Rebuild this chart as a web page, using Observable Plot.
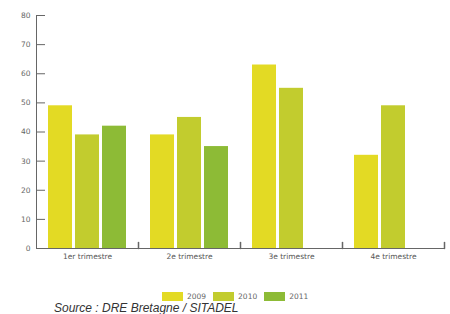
<!DOCTYPE html>
<html><head><meta charset="utf-8">
<script src="https://cdn.jsdelivr.net/npm/d3@7"></script>
<script src="https://cdn.jsdelivr.net/npm/@observablehq/plot@0.6"></script>
<style>
body{margin:0;background:#fff;font-family:"Liberation Sans",Arial,sans-serif;overflow:hidden;}
#legend{display:flex;align-items:center;margin-left:162px;margin-top:22px;height:9px;line-height:9px;font-family:"DejaVu Sans",sans-serif;font-size:7.5px;color:#666;}
#legend .sw{width:21px;height:9px;margin-right:4px;}
#legend .it{display:flex;align-items:center;margin-right:7px;}
#caption{margin-left:54px;margin-top:1px;font-style:italic;font-size:12px;color:#333;line-height:12px;white-space:nowrap;}
</style></head>
<body><div id="chart"></div><div id="legend"></div><div id="caption">Source : DRE Bretagne / SITADEL</div>
<script>
const quarters = ["1er trimestre","2e trimestre","3e trimestre","4e trimestre"];
const years = ["2009","2010","2011"];
const values2009 = [49, 39, 63, 32];
const values2010 = [39, 45, 55, 49];
const values2011 = [42, 35, null, null];
const colors = ["#e3da24","#c2cc2e","#8dbb36"];
const yTicks = [0,10,20,30,40,50,60,70,80];

const series = [values2009, values2010, values2011];
const data = [];
quarters.forEach((q,i)=>years.forEach((y,j)=>{ if (series[j][i] != null) data.push({quarter:q, year:y, value:series[j][i]}); }));

const lineShape = {draw(ctx, l){ ctx.moveTo(0,0); ctx.lineTo(0,-l); }};

const plot = Plot.plot({
  width: 450, height: 270,
  marginLeft: 35, marginRight: 5, marginTop: 15, marginBottom: 22,
  style: {fontFamily: "DejaVu Sans, sans-serif", fontSize: "7.5px", color: "#666", background: "#fff"},
  fx: {domain: quarters, padding: 0, label: null, axis: null},
  x: {domain: years, axis: null, paddingInner: 0.107, paddingOuter: 0.384},
  y: {domain: [0,80], label: null, axis: null},
  color: {domain: years, range: colors},
  marks: [
    Plot.barY(data, {fx: "quarter", x: "year", y: "value", fill: "year"}),
    Plot.frame({anchor: "bottom", stroke: "#666"}),
    Plot.frame({anchor: "left", stroke: "#666", facetAnchor: "left"}),
    Plot.vector([0], {frameAnchor: "bottom-right", length: 6, anchor: "start", shape: lineShape, stroke: "#666"}),
    Plot.axisY({ticks: yTicks, tickSize: -9, tickPadding: 15, stroke: "#666", fill: "#666", tickFormat: d=>d, label: null}),
    Plot.axisFx({anchor: "bottom", tickSize: 0, tickPadding: 5, fill: "#555", label: null})
  ]
});
document.getElementById("chart").appendChild(plot);

const legend = document.getElementById("legend");
years.forEach((y,j)=>{
  const it = document.createElement("div"); it.className="it";
  const sw = document.createElement("div"); sw.className="sw"; sw.style.background=colors[j];
  const t = document.createElement("span"); t.textContent=y;
  it.appendChild(sw); it.appendChild(t); legend.appendChild(it);
});
</script></body></html>
